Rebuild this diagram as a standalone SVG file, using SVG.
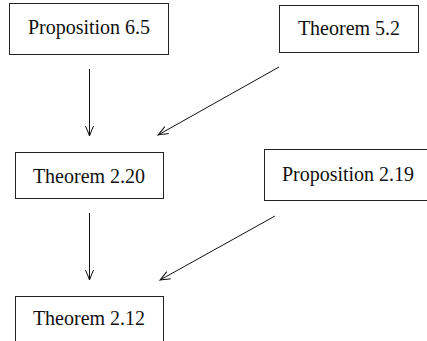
<svg xmlns="http://www.w3.org/2000/svg" width="427" height="341" viewBox="0 0 427 341">
<style>
.box{fill:#fff;stroke:#222;stroke-width:1}
.lbl{font-family:"Liberation Serif","Times New Roman",serif;font-size:20px;fill:#111;text-anchor:middle}
.edge{stroke:#111;stroke-width:1;fill:none}
</style>
<defs>
<marker id="ah" markerUnits="userSpaceOnUse" markerWidth="14" markerHeight="10" viewBox="-11 -5 12 10" refX="0" refY="0" orient="auto">
<path d="M-10,-4 Q-3,-1 0,0 Q-3,1 -10,4" fill="none" stroke="#111" stroke-width="1"/>
</marker>
</defs>
<rect width="427" height="341" fill="#fff"/>
<g id="prop65"><rect class="box" x="9.5" y="3.5" width="159" height="51"/><text class="lbl" x="89" y="34">Proposition 6.5</text></g>
<g id="thm52"><rect class="box" x="279.5" y="5.5" width="139" height="47"/><text class="lbl" x="349" y="35">Theorem 5.2</text></g>
<g id="thm220"><rect class="box" x="15.5" y="152.5" width="148" height="46"/><text class="lbl" x="89" y="183">Theorem 2.20</text></g>
<g id="prop219"><rect class="box" x="264.5" y="149.5" width="170" height="51"/><text class="lbl" x="348" y="181">Proposition 2.19</text></g>
<g id="thm212"><rect class="box" x="15.5" y="296.5" width="148" height="50"/><text class="lbl" x="89" y="325">Theorem 2.12</text></g>
<g id="connectors">
<line class="edge" x1="89.5" y1="69" x2="89.5" y2="136" marker-end="url(#ah)"/>
<line class="edge" x1="279" y1="67" x2="158" y2="135" marker-end="url(#ah)"/>
<line class="edge" x1="89.5" y1="213" x2="89.5" y2="280" marker-end="url(#ah)"/>
<line class="edge" x1="275" y1="216" x2="160" y2="280" marker-end="url(#ah)"/>
</g>
</svg>
